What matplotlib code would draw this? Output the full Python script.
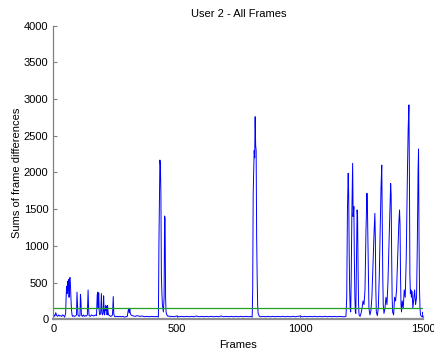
import numpy as np
import matplotlib.pyplot as plt

plt.rcParams['font.family'] = ['Liberation Sans', 'DejaVu Sans']

# frame index and sum of frame differences
frames = [0, 3, 6, 10, 14, 18, 22, 26, 30, 34, 38, 42, 46, 50,
          52, 54, 56, 58, 60, 62, 64, 66, 68, 70, 72, 74, 76,
          78, 82, 86, 90, 94, 96, 98, 100, 104, 108, 110, 112, 114, 118,
          122, 126, 130, 134, 138, 141, 143, 145, 150, 155, 160, 165, 170,
          175, 178, 180, 182, 184, 186, 188, 192, 195, 197, 199, 202, 204,
          206, 208, 212, 214, 216, 218, 220, 222, 224, 228, 232, 236, 240,
          243, 245, 248, 252, 258, 264, 270, 276, 282, 288, 294, 300, 303,
          306, 308, 310, 312, 315, 320, 326, 332, 340, 350, 360, 370, 380,
          390, 400, 410, 420, 426, 428, 430, 432, 434, 436, 438, 440, 442,
          444, 446, 449, 451, 453, 455, 457, 460, 465, 470, 475, 480, 490,
          500, 510, 520, 530, 540, 550, 560, 570, 580, 590, 600, 610, 620,
          630, 640, 650, 660, 670, 680, 690, 700, 710, 720, 730, 740, 750,
          760, 770, 780, 790, 800, 806, 808, 810, 812, 814, 816, 818, 820,
          822, 824, 826, 828, 830, 835, 840, 850, 860, 870, 880, 890, 900,
          910, 920, 930, 940, 950, 960, 970, 980, 990, 1000, 1010, 1020,
          1030, 1040, 1050, 1060, 1070, 1080, 1090, 1100, 1110, 1120, 1130,
          1140, 1150, 1160, 1170, 1180, 1186, 1189, 1192, 1195, 1197, 1199,
          1201, 1203, 1205, 1207, 1210, 1213, 1215, 1218, 1220, 1222, 1224,
          1226, 1228, 1231, 1233, 1235, 1237, 1239, 1243, 1247, 1251, 1255,
          1259, 1263, 1267, 1271, 1273, 1275, 1277, 1279, 1283, 1287, 1291,
          1295, 1300, 1303, 1305, 1307, 1309, 1313, 1317, 1321, 1325, 1328,
          1331, 1333, 1335, 1337, 1340, 1344, 1348, 1352, 1356, 1360, 1364,
          1367, 1369, 1371, 1373, 1375, 1379, 1383, 1387, 1391, 1395, 1400,
          1403, 1405, 1407, 1409, 1411, 1414, 1418, 1422, 1426, 1430, 1435,
          1438, 1441, 1443, 1445, 1447, 1449, 1451, 1454, 1457, 1460, 1464,
          1468, 1472, 1475, 1478, 1480, 1482, 1484, 1486, 1488, 1492, 1496,
          1498, 1500]
sums = [30, 60, 40, 90, 50, 40, 60, 45, 50, 40, 60, 50, 30, 80,
        300, 450, 350, 520, 400, 540, 300, 560, 570, 430, 250, 120, 60,
        40, 50, 40, 45, 60, 370, 200, 60, 40, 50, 340, 250, 60, 40,
        60, 40, 50, 45, 60, 400, 150, 50, 40, 60, 50, 45, 60,
        50, 330, 370, 150, 360, 120, 60, 80, 350, 100, 60, 80, 320,
        120, 60, 190, 120, 180, 60, 190, 100, 60, 50, 40, 45, 60,
        310, 80, 40, 35, 40, 35, 40, 35, 40, 30, 35, 40, 110,
        150, 90, 140, 80, 60, 50, 45, 40, 50, 40, 45, 35, 40,
        35, 40, 35, 40, 30, 1000, 1650, 2170, 2100, 1720, 600, 370, 200,
        150, 100, 300, 1407, 1380, 300, 100, 60, 40, 45, 35, 40, 35,
        45, 35, 40, 35, 40, 35, 40, 35, 45, 35, 40, 35, 40,
        35, 40, 35, 40, 35, 45, 35, 40, 35, 40, 35, 40, 35,
        40, 35, 40, 35, 40, 30, 400, 1700, 2035, 2300, 2200, 2760, 2370,
        2300, 1125, 600, 200, 80, 40, 35, 40, 35, 40, 35, 40, 35,
        40, 35, 40, 35, 40, 35, 40, 35, 40, 45, 35, 40,
        35, 40, 35, 40, 35, 40, 35, 40, 35, 40, 35,
        40, 35, 40, 35, 35, 40, 300, 1500, 1990, 1694, 900,
        400, 150, 100, 500, 1500, 2125, 1400, 1535, 800, 300, 100,
        80, 600, 1490, 1400, 700, 200, 60, 40, 80, 150, 250,
        200, 400, 1200, 1717, 1500, 1040, 500, 150, 60, 120, 300,
        700, 1200, 1444, 1100, 400, 100, 50, 150, 600, 1300, 1800,
        2100, 1400, 600, 200, 80, 150, 300, 200, 500, 1000, 1500,
        1850, 1700, 900, 300, 100, 60, 300, 250, 400, 800, 1300,
        1490, 1300, 600, 200, 100, 250, 150, 400, 300, 800, 2000,
        2600, 2920, 2000, 600, 350, 400, 300, 380, 150, 250, 400,
        200, 300, 1000, 2000, 2320, 1100, 400, 150, 60, 40, 30,
        100, 60]
threshold = 150

fig = plt.figure(figsize=(4.35, 3.54), dpi=100)
ax = fig.add_axes([0.1225, 0.098, 0.851, 0.8295])

ax.plot(frames, sums, color='#0000ff', linewidth=0.7)
ax.plot([0, 1500], [threshold, threshold], color='#22a022', linewidth=0.9)

ax.set_xlim(0, 1500)
ax.set_ylim(0, 4000)
ax.set_xticks([0, 500, 1000, 1500])
ax.set_yticks(np.arange(0, 4001, 500))

for s in ['top', 'right']:
    ax.spines[s].set_visible(False)
ax.spines['left'].set_color('#808080')
ax.spines['bottom'].set_color('#909090')
ax.spines['left'].set_linewidth(0.9)
ax.spines['bottom'].set_linewidth(1.6)
ax.tick_params(direction='in', length=3, color='#808080', labelsize=8,
               width=0.8)

ax.set_title('User 2 - All Frames', fontsize=8)
ax.set_xlabel('Frames', fontsize=8, labelpad=4)
ax.set_ylabel('Sums of frame differences', fontsize=8, labelpad=1)

fig.savefig('out.png', dpi=100)
